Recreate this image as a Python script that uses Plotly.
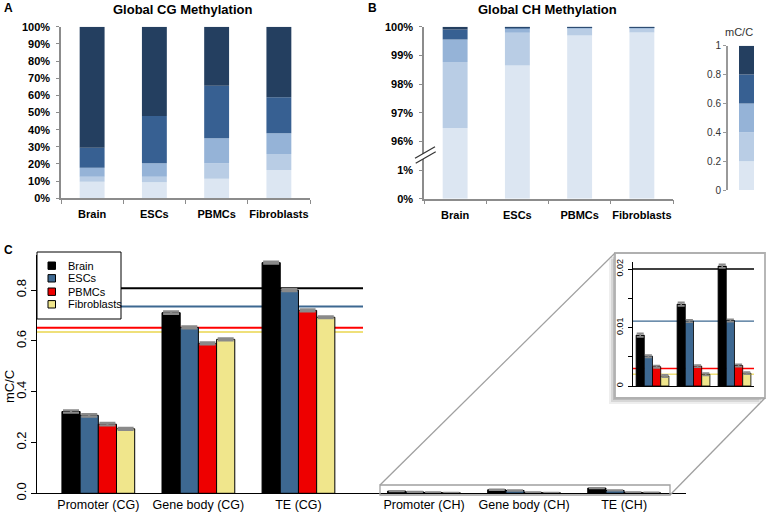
import plotly.graph_objects as go
import numpy as np

# ---------------- DATA ----------------
CATEGORIES = ["Brain", "ESCs", "PBMCs", "Fibroblasts"]
BIN_LABELS = ["0-0.2", "0.2-0.4", "0.4-0.6", "0.6-0.8", "0.8-1"]

# Panel A: % of CG sites per methylation bin (per cell type, bins low->high)
CG_BIN_1 = [9.7, 9.3, 11.4, 16.5]
CG_BIN_2 = [2.9, 3.3, 9.0, 9.3]
CG_BIN_3 = [5.2, 7.8, 14.6, 12.1]
CG_BIN_4 = [11.7, 27.6, 30.6, 21.0]
CG_BIN_5 = [70.5, 52.0, 34.4, 41.1]

# Panel B: % of CH sites per methylation bin
CH_BIN_1 = [96.47, 98.65, 99.69, 99.80]
CH_BIN_2 = [2.30, 1.14, 0.26, 0.15]
CH_BIN_3 = [0.78, 0.15, 0.03, 0.03]
CH_BIN_4 = [0.35, 0.03, 0.01, 0.01]
CH_BIN_5 = [0.10, 0.03, 0.01, 0.01]

A_TICKS = [0, 10, 20, 30, 40, 50, 60, 70, 80, 90, 100]
B_TICKS = [0, 1, 96, 97, 98, 99, 100]
COLORBAR_TICKS = [0, 0.2, 0.4, 0.6, 0.8, 1.0]

# Panel C: mean mC/C by region
REGIONS = ["Promoter (CG)", "Gene body (CG)", "TE (CG)",
           "Promoter (CH)", "Gene body (CH)", "TE (CH)"]
BRAIN = [0.322, 0.711, 0.908, 0.0087, 0.0140, 0.0205]
ESCS = [0.307, 0.653, 0.800, 0.0051, 0.0111, 0.0112]
PBMCS = [0.272, 0.590, 0.720, 0.0033, 0.0034, 0.0035]
FIBRO = [0.254, 0.606, 0.693, 0.0017, 0.0020, 0.0022]
ERR_BRAIN = [0.005, 0.005, 0.004, 0.0003, 0.0003, 0.0003]
ERR_ESCS = [0.005, 0.004, 0.004, 0.0002, 0.0002, 0.0002]
ERR_PBMCS = [0.005, 0.004, 0.004, 0.0002, 0.0002, 0.0002]
ERR_FIBRO = [0.004, 0.004, 0.004, 0.0002, 0.0002, 0.0002]
GENOME_CG = [0.807, 0.735, 0.652, 0.635]
GENOME_CH = [0.0200, 0.0111, 0.0030, 0.0020]
C_TICKS = [0.0, 0.2, 0.4, 0.6, 0.8]
INSET_TICKS = [0, 0.005, 0.01, 0.015, 0.02]
INSET_TICKTEXT = ["0", "", "0.01", "", "0.02"]

# ---------------- STYLE ----------------
W, H = 769, 513
FONT = "Liberation Sans"
BIN_COLORS = ["#DCE6F2", "#B9CDE5", "#95B3D7", "#376092", "#243F60"]
CELL_COLORS = ["#000000", "#3D6891", "#EE0000", "#F0E68C"]
LINE_COLORS = ["#000000", "#3D6891", "#FF0000", "#EFE07A"]
AXIS_GRAY = "#8C8C8C"


def X(p):
    return p / W


def Y(p):
    return 1 - p / H


def ch_scale(v):
    """Broken axis of panel B: 0-1% and 96-100% at equal tick spacing."""
    v = np.asarray(v, dtype=float)
    return np.where(v <= 1, v, np.where(v >= 96, v - 94, 1 + (v - 1) / 95))


fig = go.Figure()

# ---- Panel A ----
cg_bins = [CG_BIN_1, CG_BIN_2, CG_BIN_3, CG_BIN_4, CG_BIN_5]
cum = np.zeros(4)
for k, vals in enumerate(cg_bins):
    fig.add_trace(go.Bar(x=CATEGORIES, y=vals, base=cum.copy(), width=0.4,
                         marker=dict(color=BIN_COLORS[k], line_width=0),
                         name=BIN_LABELS[k], xaxis="x", yaxis="y",
                         showlegend=False))
    cum = cum + np.array(vals)

# ---- Panel B ----
ch_bins = [CH_BIN_1, CH_BIN_2, CH_BIN_3, CH_BIN_4, CH_BIN_5]
cum = np.zeros(4)
for k, vals in enumerate(ch_bins):
    top = cum + np.array(vals)
    b0 = ch_scale(cum)
    b1 = ch_scale(np.minimum(top, 100))
    fig.add_trace(go.Bar(x=CATEGORIES, y=b1 - b0, base=b0, width=0.4,
                         marker=dict(color=BIN_COLORS[k], line_width=0),
                         name=BIN_LABELS[k], xaxis="x2", yaxis="y2",
                         showlegend=False, customdata=vals,
                         hovertemplate="%{x}: %{customdata}%<extra></extra>"))
    cum = top

# ---- Colour key ----
for k in range(5):
    fig.add_trace(go.Bar(x=[0], y=[COLORBAR_TICKS[k + 1] - COLORBAR_TICKS[k]],
                         base=[COLORBAR_TICKS[k]], width=1,
                         marker=dict(color=BIN_COLORS[k], line_width=0),
                         xaxis="x5", yaxis="y5", showlegend=False))

# ---- Panel C ----
GROUP_X = [0, 5.5, 11, 17.9, 23.4, 28.9]
INSET_X = [0, 5, 10]
cells = [BRAIN, ESCS, PBMCS, FIBRO]
errs = [ERR_BRAIN, ERR_ESCS, ERR_PBMCS, ERR_FIBRO]
for i, (vals, err) in enumerate(zip(cells, errs)):
    fig.add_trace(go.Bar(x=[g + (i - 1.5) for g in GROUP_X], y=vals, width=1,
                         marker=dict(color=CELL_COLORS[i],
                                     line=dict(color="black", width=1)),
                         error_y=dict(type="data", array=err, color="#8A8A8A",
                                      thickness=2.2, width=8),
                         name=CATEGORIES[i], xaxis="x3", yaxis="y3",
                         showlegend=False))
    fig.add_trace(go.Bar(x=[g + (i - 1.5) for g in INSET_X], y=vals[3:],
                         width=1,
                         marker=dict(color=CELL_COLORS[i],
                                     line=dict(color="black", width=0.8)),
                         error_y=dict(type="data", array=err[3:],
                                      color="#8A8A8A", thickness=1.6, width=3.5),
                         name=CATEGORIES[i], xaxis="x4", yaxis="y4",
                         showlegend=False))

shapes = []
# genome-wide lines in C
for i, v in enumerate(GENOME_CG):
    shapes.append(dict(type="line", xref="x3 domain", yref="y3", x0=0,
                       x1=(363 - 37) / (686 - 37), y0=v, y1=v, layer="below",
                       line=dict(color=LINE_COLORS[i], width=2)))
# legend box
shapes.append(dict(type="rect", xref="paper", yref="paper", x0=X(37), x1=X(121),
                   y0=Y(319), y1=Y(252), fillcolor="white", layer="below",
                   line=dict(color="black", width=1)))
LEG_Y = [265.7, 278.3, 291.7, 304.3]
for i, yy in enumerate(LEG_Y):
    shapes.append(dict(type="rect", xref="paper", yref="paper", x0=X(48),
                       x1=X(55.5), y0=Y(yy + 3.7), y1=Y(yy - 3.7),
                       fillcolor=CELL_COLORS[i], layer="below",
                       line=dict(color="black", width=1)))
# zoom box around CH bars + connector lines
shapes.append(dict(type="rect", xref="paper", yref="paper", x0=X(380), x1=X(670),
                   y0=Y(495), y1=Y(485), layer="above",
                   line=dict(color="#A0A0A0", width=1.3)))
shapes.append(dict(type="line", xref="paper", yref="paper", x0=X(380), y0=Y(485),
                   x1=X(615), y1=Y(253), line=dict(color="#A0A0A0", width=1.3)))
shapes.append(dict(type="line", xref="paper", yref="paper", x0=X(670), y0=Y(495),
                   x1=X(765), y1=Y(398), line=dict(color="#A0A0A0", width=1.3)))
# inset shadow + box
for off, op in [(6, 0.10), (4, 0.15), (2, 0.22)]:
    shapes.append(dict(type="rect", xref="paper", yref="paper", x0=X(615 - off),
                       x1=X(765 - off), y0=Y(398 + off), y1=Y(253 + off),
                       fillcolor="rgba(90,90,90,%.2f)" % op, line_width=0,
                       layer="below"))
shapes.append(dict(type="rect", xref="paper", yref="paper", x0=X(615), x1=X(765),
                   y0=Y(398), y1=Y(253), fillcolor="white", layer="below",
                   line=dict(color="#B0B0B0", width=1.8)))
for i, v in enumerate(GENOME_CH):
    shapes.append(dict(type="line", xref="x4 domain", yref="y4", x0=0, x1=1,
                       y0=v, y1=v, layer="below",
                       line=dict(color=LINE_COLORS[i], width=1.4)))
# axis break marks in B
shapes.append(dict(type="path", xref="paper", yref="paper",
                   path="M %f %f L %f %f L %f %f L %f %f Z" % (
                       X(415), Y(158.3), X(435), Y(146.7),
                       X(435.7), Y(151.7), X(415.7), Y(163.3)),
                   fillcolor="white", line_width=0, layer="above"))
for (x0, y0, x1, y1) in [(415, 158.3, 435, 146.7), (415.7, 163.3, 435.7, 151.7)]:
    shapes.append(dict(type="line", xref="paper", yref="paper", x0=X(x0),
                       y0=Y(y0), x1=X(x1), y1=Y(y1),
                       line=dict(color="#333333", width=1.2)))

annotations = []


def txt(x, y, s, size, bold=False, color="black", xanchor="center", angle=0):
    annotations.append(dict(x=X(x), y=Y(y), xref="paper", yref="paper", text=s,
                            showarrow=False, xanchor=xanchor, yanchor="middle",
                            textangle=angle,
                            font=dict(family=FONT, size=size, color=color,
                                      weight="bold" if bold else "normal")))


txt(8, 8, "A", 12, True)
txt(372, 8, "B", 12, True)
txt(8, 250, "C", 12, True)
txt(182, 9, "Global CG Methylation", 13, True)
txt(547, 9, "Global CH Methylation", 13, True)
txt(739, 32, "mC/C", 11, color="#333333")
txt(9, 387, "mC/C", 13, angle=-90)
for i, yy in enumerate(LEG_Y):
    txt(66, yy, CATEGORIES[i], 11, xanchor="left")

bold_tick = dict(family=FONT, size=11, color="black", weight="bold")
cat_axis = dict(type="category", tickson="boundaries", ticks="outside", ticklen=4,
                tickcolor=AXIS_GRAY, showline=True, linecolor=AXIS_GRAY,
                linewidth=1.5, tickfont=bold_tick, showgrid=False, tickangle=0,
                ticklabelstandoff=5, range=[-0.5, 3.5], fixedrange=True,
                automargin=False)
pct_axis = dict(ticks="outside", ticklen=3, tickcolor=AXIS_GRAY, showline=True,
                linecolor=AXIS_GRAY, linewidth=1.5, tickfont=bold_tick,
                showgrid=False, zeroline=False, ticklabelstandoff=4,
                automargin=False)

fig.update_layout(
    width=W, height=H, margin=dict(l=0, r=0, t=0, b=0, pad=0),
    autosize=False,
    paper_bgcolor="white", plot_bgcolor="rgba(0,0,0,0)",
    barmode="overlay", showlegend=False, font=dict(family=FONT),
    xaxis=dict(domain=[X(61), X(310)], anchor="y", **cat_axis),
    yaxis=dict(domain=[Y(198.3), Y(26.7)], anchor="x", range=[0, 100],
               tickvals=A_TICKS, ticktext=["%d%%" % t for t in A_TICKS],
               **pct_axis),
    xaxis2=dict(domain=[X(424), X(673)], anchor="y2", **cat_axis),
    yaxis2=dict(domain=[Y(198.7), Y(26.7)], anchor="x2", range=[0, 6],
                tickvals=list(ch_scale(B_TICKS)),
                ticktext=["%d%%" % t for t in B_TICKS], **pct_axis),
    xaxis5=dict(domain=[X(739), X(754)], anchor="y5", range=[-0.5, 0.5],
                visible=False, automargin=False),
    yaxis5=dict(domain=[Y(190), Y(45.7)], anchor="free", position=X(727),
                range=[0, 1], tickvals=COLORBAR_TICKS,
                ticktext=["0", "0.2", "0.4", "0.6", "0.8", "1"],
                ticks="outside", ticklen=3, tickcolor="#999999", showline=True,
                linecolor="#999999", linewidth=2, showgrid=False, zeroline=False,
                automargin=False,
                tickfont=dict(family=FONT, size=10, color="#333333")),
    xaxis3=dict(domain=[X(37), X(686)], anchor="y3", range=[-3.37, 32.3],
                tickvals=GROUP_X, ticktext=REGIONS, ticks="", showline=True,
                linecolor="black", linewidth=1, showgrid=False, zeroline=False,
                ticklabelstandoff=0, tickangle=0, automargin=False,
                tickfont=dict(family=FONT, size=12.5, color="black")),
    yaxis3=dict(domain=[Y(493.3), Y(254.5)], anchor="x3", range=[0, 0.94],
                tickvals=C_TICKS, ticktext=["%.1f" % t for t in C_TICKS],
                tickangle=-90, ticks="outside", ticklen=5, tickcolor="black",
                showline=True, linecolor="black", linewidth=1, showgrid=False,
                zeroline=False, ticklabelstandoff=0, automargin=False,
                tickfont=dict(family=FONT, size=13, color="black")),
    xaxis4=dict(domain=[X(633), X(754)], anchor="y4", range=[-2.38, 12.38],
                showticklabels=False, ticks="", showline=True, linecolor="black",
                linewidth=1, showgrid=False, zeroline=False, automargin=False),
    yaxis4=dict(domain=[Y(386), Y(262)], anchor="x4", range=[0, 0.0212],
                tickvals=INSET_TICKS, ticktext=INSET_TICKTEXT, tickangle=-90,
                ticks="outside", ticklen=4, tickcolor="black", showline=True,
                linecolor="black", linewidth=1, showgrid=False, zeroline=False,
                ticklabelstandoff=1, automargin=False,
                tickfont=dict(family=FONT, size=9, color="black")),
    shapes=shapes, annotations=annotations,
)

fig.write_html("out.html", config={"displayModeBar": False},
               post_script="document.body.style.margin='0';"
                           "document.body.style.overflow='hidden';")
